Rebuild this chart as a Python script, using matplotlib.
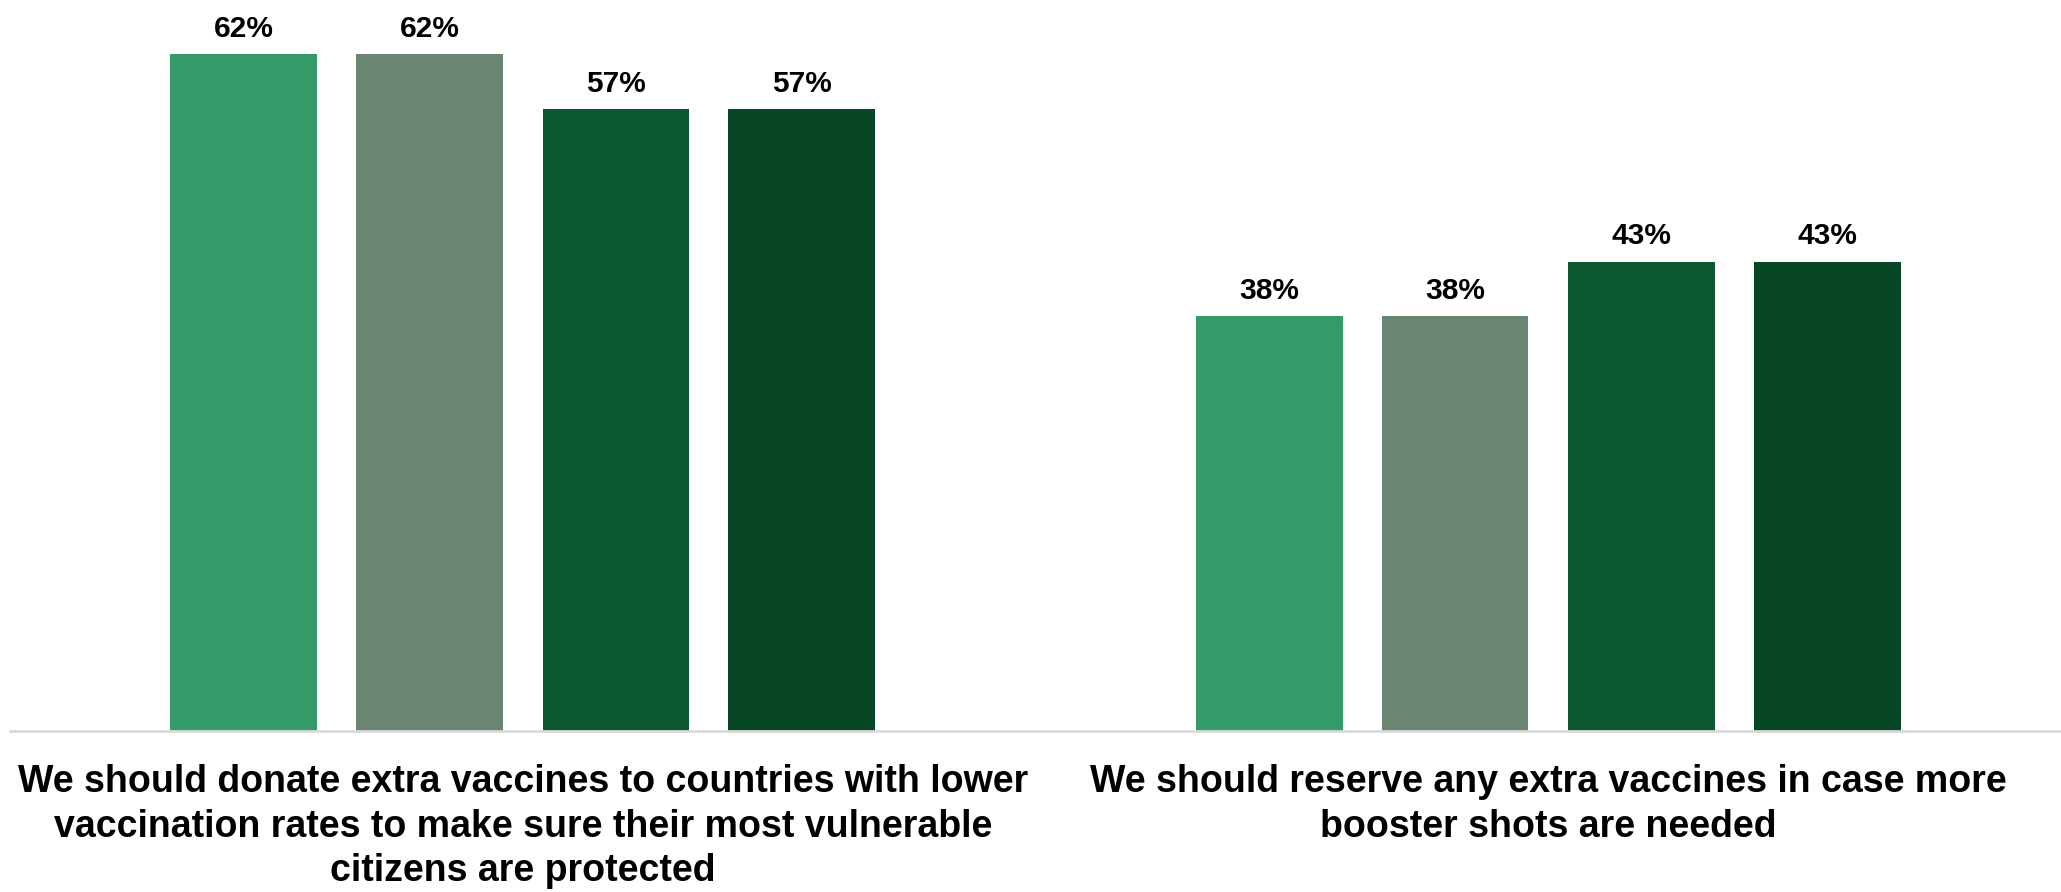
import numpy as np
import matplotlib
matplotlib.use("Agg")
from matplotlib import pyplot as plt

# categories and values
categories = ["We should donate extra vaccines to countries with lower\nvaccination rates to make sure their most vulnerable\ncitizens are protected",
              "We should reserve any extra vaccines in case more\nbooster shots are needed"]
series_1 = [62, 38]
series_2 = [62, 38]
series_3 = [57, 43]
series_4 = [57, 43]
colors = ["#349a68", "#6a8673", "#0b5730", "#074725"]

fig = plt.figure(figsize=(20.61, 8.92), dpi=100)
ax = fig.add_axes([10/2061, 1 - 731/892, 1 - 10/2061, 731/892])

x = np.arange(len(categories))
width = 0.143
offsets = [-0.272, -0.091, 0.091, 0.272]

for vals, off, col in zip([series_1, series_2, series_3, series_4], offsets, colors):
    bars = ax.bar(x + off, vals, width, color=col)
    for b, v in zip(bars, vals):
        ax.annotate("%d%%" % v, (b.get_x() + b.get_width()/2, v),
                    xytext=(0, 8), textcoords="offset points",
                    ha="center", va="bottom", fontsize=21.5, fontweight="bold",
                    family="Liberation Sans")

ax.set_xlim(-0.5, 1.5)
ax.set_ylim(0, 66.95)
ax.set_xticks(x)
ax.set_xticklabels(categories, fontsize=27, fontweight="bold",
                   family="Liberation Sans", linespacing=1.3)
ax.tick_params(axis="x", length=0, pad=24)
ax.set_yticks([])
for s in ["top", "right", "left"]:
    ax.spines[s].set_visible(False)
ax.spines["bottom"].set_color("#d9d9d9")
ax.spines["bottom"].set_linewidth(2)

plt.savefig("out.png", dpi=100)
